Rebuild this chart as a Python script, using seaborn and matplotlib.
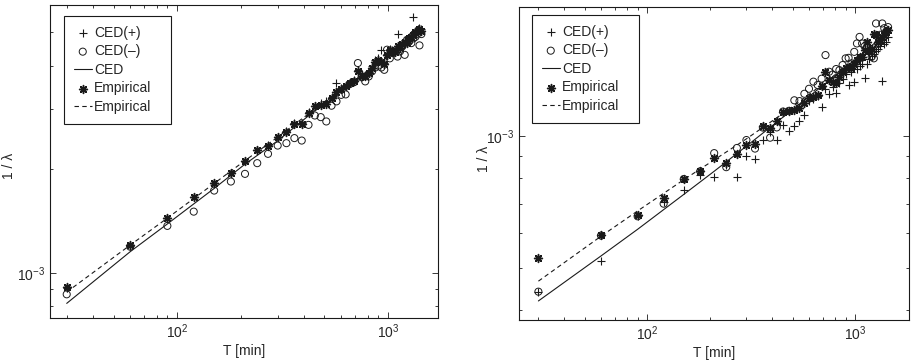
import matplotlib
matplotlib.use("Agg")
import numpy as np
import seaborn as sns
import matplotlib.pyplot as plt
from matplotlib.ticker import LogLocator, NullFormatter

# time points [min]
T = [30, 60, 90, 120, 150, 180, 210, 240, 270, 300, 330, 360, 390, 420, 450, 480,
     510, 540, 570, 600, 630, 660, 690, 720, 750, 780, 810, 840, 870, 900, 930, 960,
     990, 1020, 1050, 1080, 1110, 1140, 1170, 1200, 1230, 1260, 1290, 1320, 1350,
     1380, 1410, 1440]

# left panel, 1/lambda in units of 1e-3
left_plus = [0.905, 1.20, 1.44, 1.66, 1.83, 1.95, 2.11, 2.28, 2.35, 2.49, 2.59, 2.72,
             2.72, 2.93, 3.06, 3.12, 3.16, 3.25, 3.56, 3.45, 3.52, 3.58, 3.64, 3.88,
             3.74, 3.76, 3.82, 3.98, 4.14, 4.20, 4.45, 4.08, 4.33, 4.48, 4.44, 4.42,
             4.94, 4.55, 4.66, 4.74, 4.70, 4.84, 4.90, 5.52, 5.04, 5.10, 5.14, 5.10]
left_minus = [0.867, 1.192, 1.370, 1.507, 1.735, 1.843, 1.940, 2.084, 2.218, 2.344,
              2.382, 2.464, 2.424, 2.692, 2.866, 2.835, 2.754, 3.06, 3.15, 3.29, 3.30,
              3.54, 3.58, 4.07, 3.70, 3.60, 3.72, 3.85, 3.95, 4.00, 3.95, 3.89, 4.45,
              4.20, 4.35, 4.40, 4.25, 4.40, 4.55, 4.30, 4.75, 4.70, 4.65, 4.80, 4.85,
              4.95, 4.58, 4.94]
left_emp = [0.912, 1.206, 1.442, 1.660, 1.830, 1.949, 2.112, 2.279, 2.345, 2.480, 2.575,
            2.706, 2.711, 2.912, 3.044, 3.079, 3.10, 3.22, 3.35, 3.42, 3.50, 3.56, 3.62,
            3.85, 3.72, 3.74, 3.80, 3.95, 4.10, 4.15, 4.10, 4.05, 4.30, 4.45, 4.40,
            4.38, 4.55, 4.50, 4.62, 4.70, 4.65, 4.80, 4.85, 4.90, 5.00, 5.05, 5.10, 5.05]

# right panel
right_plus = [0.440, 0.518, 0.655, 0.705, 0.751, 0.815, 0.806, 0.860, 0.806, 0.901,
              0.887, 0.979, 1.020, 0.979, 1.059, 1.028, 1.050, 1.078, 1.116, 1.200,
              1.210, 1.230, 1.166, 1.280, 1.243, 1.290, 1.254, 1.320, 1.350, 1.380,
              1.306, 1.400, 1.329, 1.420, 1.440, 1.460, 1.357, 1.460, 1.500, 1.520,
              1.540, 1.560, 1.580, 1.600, 1.334, 1.620, 1.640, 1.680]
right_minus = [0.441, 0.592, 0.655, 0.700, 0.797, 0.830, 0.913, 0.848, 0.938, 0.978,
               0.935, 1.044, 0.990, 1.045, 1.136, 1.140, 1.205, 1.200, 1.247, 1.280,
               1.329, 1.306, 1.350, 1.528, 1.400, 1.380, 1.420, 1.412, 1.450, 1.502,
               1.506, 1.463, 1.554, 1.624, 1.681, 1.624, 1.600, 1.597, 1.560, 1.514,
               1.502, 1.804, 1.620, 1.700, 1.804, 1.760, 1.730, 1.770]
right_emp = [0.525, 0.593, 0.661, 0.722, 0.797, 0.830, 0.890, 0.867, 0.910, 0.954, 0.960,
             1.050, 1.040, 1.078, 1.136, 1.140, 1.146, 1.160, 1.187, 1.218, 1.228, 1.239,
             1.300, 1.400, 1.340, 1.329, 1.317, 1.360, 1.400, 1.425, 1.437, 1.430, 1.460,
             1.488, 1.514, 1.515, 1.568, 1.637, 1.560, 1.580, 1.711, 1.696, 1.640, 1.650,
             1.680, 1.700, 1.726, 1.741]

# fitted curves
line_T = [30, 60, 90, 150, 210, 300, 510, 1000, 1440]
left_ced = [0.816, 1.153, 1.388, 1.76, 2.07, 2.42, 3.15, 4.24, 5.00]
left_fit = [0.880, 1.205, 1.443, 1.82, 2.12, 2.48, 3.17, 4.26, 5.03]
right_ced = [0.420, 0.532, 0.612, 0.735, 0.830, 0.947, 1.156, 1.490, 1.730]
right_fit = [0.466, 0.590, 0.674, 0.794, 0.881, 0.984, 1.172, 1.493, 1.727]

sns.set_theme(style="ticks")
plt.rcParams['font.family'] = ['Liberation Sans', 'DejaVu Sans']
plt.rcParams['mathtext.fontset'] = 'custom'
plt.rcParams['mathtext.rm'] = 'Liberation Sans'
plt.rcParams['mathtext.it'] = 'Liberation Sans:italic'
plt.rcParams['mathtext.bf'] = 'Liberation Sans:bold'
plt.rcParams['xtick.direction'] = 'in'
plt.rcParams['ytick.direction'] = 'in'

FS = 10
asterisk = (8, 2, 0)


def panel(ax, p, m, e, ced, fit, xlim, ylim):
    p = np.array(p) * 1e-3
    m = np.array(m) * 1e-3
    e = np.array(e) * 1e-3
    sns.scatterplot(x=T, y=p, ax=ax, marker='+', color='k', s=30, linewidth=0.8,
                    label='CED(+)', zorder=3)
    sns.scatterplot(x=T, y=m, ax=ax, marker='o', facecolor='none', edgecolor='k',
                    s=26, linewidth=0.7, label='CED(–)', zorder=3)
    sns.lineplot(x=line_T, y=np.array(ced) * 1e-3, ax=ax, color='k', lw=0.8,
                 label='CED', zorder=2)
    sns.scatterplot(x=T, y=e, ax=ax, marker=asterisk, color='k', s=32, linewidth=1.1,
                    label='Empirical', zorder=4)
    sns.lineplot(x=line_T, y=np.array(fit) * 1e-3, ax=ax, color='k', lw=0.8,
                 linestyle=(0, (4, 3)), label='Empirical', zorder=2)
    ax.set_xscale('log')
    ax.set_yscale('log')
    ax.set_xlim(*xlim)
    ax.set_ylim(*ylim)
    ax.xaxis.set_minor_locator(LogLocator(base=10, subs=np.arange(2, 10)))
    ax.yaxis.set_minor_locator(LogLocator(base=10, subs=np.arange(2, 10)))
    ax.xaxis.set_minor_formatter(NullFormatter())
    ax.yaxis.set_minor_formatter(NullFormatter())
    ax.tick_params(which='both', top=True, right=True, labelsize=FS, width=0.6,
                   color='k')
    ax.tick_params(which='major', length=4)
    ax.tick_params(which='minor', length=2.5)
    for s in ax.spines.values():
        s.set_linewidth(0.8)
        s.set_color('k')
    ax.set_xlabel('T [min]', fontsize=FS, labelpad=2)
    ax.set_ylabel('1 / λ', fontsize=FS)
    ax.grid(False)


fig = plt.figure(figsize=(9.14, 3.64), dpi=100)
ax1 = fig.add_axes([50 / 914, 1 - 318 / 364, 388 / 914, 313 / 364])
ax2 = fig.add_axes([519 / 914, 1 - 320 / 364, 390 / 914, 313.3 / 364])

panel(ax1, left_plus, left_minus, left_emp, left_ced, left_fit,
      (25, 1726), (0.74e-3, 6.0e-3))
panel(ax2, right_plus, right_minus, right_emp, right_ced, right_fit,
      (24.2, 1815), (0.38e-3, 1.97e-3))

# legend boxes: (x0, y_top, width, height) in axes fractions
for ax, (x0, top, w, h) in [(ax1, (14 / 388, 1 - 11 / 313, 107 / 388, 111 / 313)),
                            (ax2, (13 / 390, 1 - 8.3 / 313, 107 / 390, 110 / 313))]:
    leg = ax.legend(loc='upper left', bbox_to_anchor=(x0, top - h, w, h),
                    mode='expand', borderaxespad=0,
                    fontsize=FS, frameon=True, fancybox=False, framealpha=1,
                    edgecolor='k', handlelength=1.3, handletextpad=0.15,
                    labelspacing=0.33, borderpad=0.7, scatterpoints=1)
    leg.get_frame().set_linewidth(0.8)

ax1.yaxis.set_label_coords(-0.088, 0.486)
ax2.yaxis.set_label_coords(-0.072, 0.514)

fig.savefig('out.png', dpi=100)
